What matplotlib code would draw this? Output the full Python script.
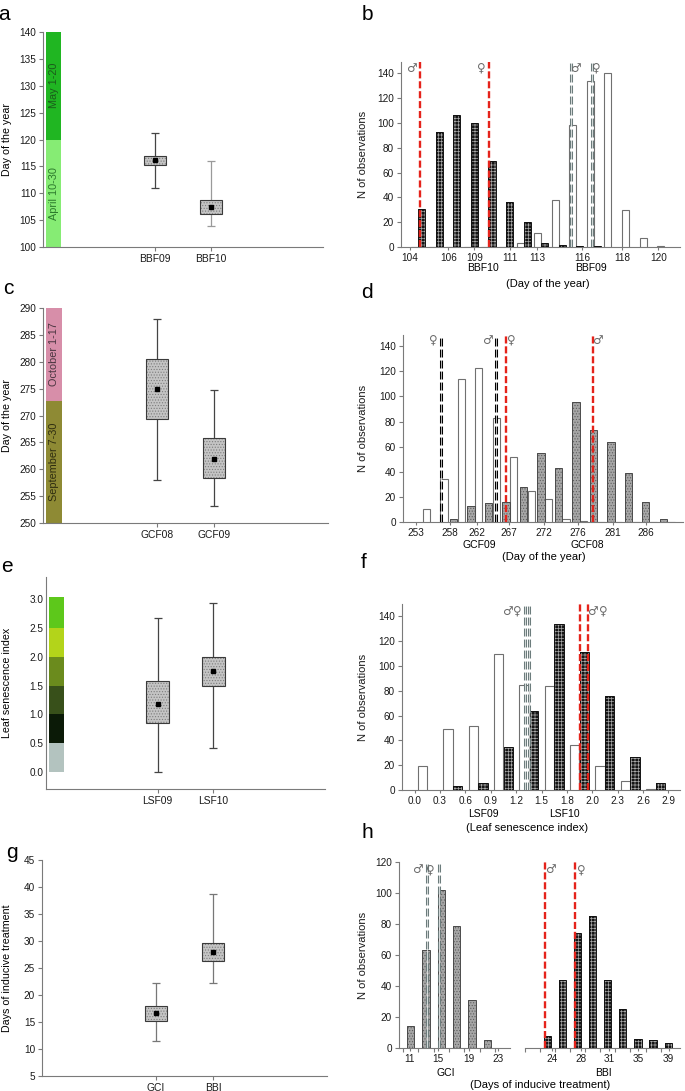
import matplotlib.pyplot as plt
import numpy as np

plt.rcParams['font.family'] = ['Liberation Sans', 'DejaVu Sans']
plt.rcParams['hatch.linewidth'] = 0.5

# a: bud burst (day of year)
bbf_names = ["BBF09", "BBF10"]
bbf_mean = [116.2, 107.5]
bbf_q1 = [115.3, 106.2]
bbf_q3 = [117.0, 108.8]
bbf_low = [111.0, 104.0]
bbf_high = [121.2, 116.0]
bbf_bands = [100, 120, 140]
bbf_band_names = ["April 10-30", "May 1-20"]

# c: growth cessation (day of year)
gcf_names = ["GCF08", "GCF09"]
gcf_mean = [275.0, 262.0]
gcf_q1 = [269.4, 258.3]
gcf_q3 = [280.5, 265.8]
gcf_low = [258.0, 253.2]
gcf_high = [288.0, 274.7]
gcf_bands = [250, 272.7, 290]
gcf_band_names = ["September 7-30", "October 1-17"]

# e: leaf senescence index
lsf_names = ["LSF09", "LSF10"]
lsf_mean = [1.19, 1.75]
lsf_q1 = [0.85, 1.50]
lsf_q3 = [1.58, 2.00]
lsf_low = [0.0, 0.42]
lsf_high = [2.67, 2.93]
lsf_bands = [0.0, 0.5, 1.0, 1.5, 2.0, 2.5, 3.0]

# g: days of inducive treatment
ind_names = ["GCI", "BBI"]
ind_mean = [16.6, 28.0]
ind_q1 = [15.1, 26.3]
ind_q3 = [18.0, 29.7]
ind_low = [11.5, 22.3]
ind_high = [22.3, 38.7]

# b: histogram bins (day of year)
b_ticklabels = ["104", "106", "109", "111", "113", "116", "118", "120"]
b_bbf09 = [0, 0, 0, 0, 0, 0, 3, 11, 38, 98, 134, 140, 30, 7, 1]
b_bbf10 = [31, 93, 106, 100, 69, 36, 20, 3, 2, 1, 1, 0, 0, 0, 0]
b_bbf10_sex = [0.1, 4.03]     # male, female means (bin units)
b_bbf09_sex = [8.7, 9.88]

# d
d_ticklabels = ["253", "258", "262", "267", "272", "276", "281", "286"]
d_gcf08 = [0, 0, 2, 13, 15, 16, 28, 55, 43, 96, 73, 64, 39, 16, 2]
d_gcf09 = [10, 34, 114, 123, 83, 52, 25, 18, 2, 1, 0, 0, 0, 0, 0]
d_gcf09_sex = [4.19, 1.04]    # male, female
d_gcf08_sex = [9.76, 4.76]

# f
f_ticklabels = ["0.0", "0.3", "0.6", "0.9", "1.2", "1.5", "1.8", "2.0", "2.3", "2.6", "2.9"]
f_lsf09 = [19, 49, 52, 110, 85, 84, 36, 19, 7, 1]
f_lsf10 = [0, 3, 6, 35, 64, 134, 111, 76, 27, 6]
f_lsf09_sex = [3.83, 3.99]
f_lsf10_sex = [6.02, 6.33]

# h
h_gci_labels = ["11", "15", "19", "23"]
h_bbi_labels = ["24", "28", "31", "35", "39"]
h_gci = [14, 63, 102, 79, 31, 5]
h_bbi = [8, 44, 74, 85, 44, 25, 6, 5, 3]
h_gci_sex = [1.09, 1.83]
h_bbi_sex = [-0.15, 1.85]

W, H = 685, 1091
fig = plt.figure(figsize=(W / 100, H / 100), dpi=100)

AX_COL = '#7a7a7a'
RED = '#e5231b'
GREY = '#6c7c7c'
MALE, FEMALE = '\u2642', '\u2640'


def add_ax(x0, x1, y0, y1):
    return fig.add_axes([x0 / W, 1 - y1 / H, (x1 - x0) / W, (y1 - y0) / H])


def ptext(x, y, s, **kw):
    fig.text(x / W, 1 - y / H, s, **kw)


def style(ax):
    for s in ['top', 'right']:
        ax.spines[s].set_visible(False)
    for s in ['left', 'bottom']:
        ax.spines[s].set_color(AX_COL)
        ax.spines[s].set_linewidth(0.8)
    ax.tick_params(colors=AX_COL, labelcolor='#1a1a1a', labelsize=7.2,
                   length=3, width=0.8, pad=2)


def box_panel(ax, names, mean, q1, q3, low, high, ylim, wcol):
    style(ax)
    pos = np.array([2, 3])
    for p, lo, hi, c in zip(pos, low, high, wcol):
        ax.vlines(p, lo, hi, color=c, lw=0.9, zorder=2)
        ax.hlines([lo, hi], p - 0.07, p + 0.07, color=c, lw=0.9, zorder=2)
    h = np.subtract(q3, q1)
    ax.bar(pos, h, bottom=q1, width=0.4, color='#c4c4c4', edgecolor='#7d7d7d',
           hatch='......', lw=0, zorder=3)
    ax.bar(pos, h, bottom=q1, width=0.4, fill=False, edgecolor='#3a3a3a',
           lw=0.8, zorder=4)
    ax.plot(pos, mean, 's', color='black', ms=2.6, zorder=5)
    ax.set_xlim(0, 5)
    ax.set_ylim(*ylim)
    ax.set_xticks(pos, names, fontsize=7.4)


def bands(ax, edges, colors, names=None, tcols=None):
    for i, c in enumerate(colors):
        ax.bar(0.19, edges[i + 1] - edges[i], bottom=edges[i], width=0.27,
               color=c, lw=0, zorder=1)
        if names:
            ax.text(0.19, (edges[i] + edges[i + 1]) / 2, names[i], rotation=90,
                    ha='center', va='center', fontsize=7.8, color=tcols[i])


def bars(ax, x, vals, kind, width):
    if kind == 'white':
        ax.bar(x, vals, width, color='white', edgecolor='#707070', lw=0.8, zorder=3)
        return
    if kind == 'dark':
        face, hc, ec = '#141414', '#a8a8a8', '#111111'
        hatch = '+++++'
    else:
        face, hc, ec = '#a6a6a6', '#5e5e5e', '#4a4a4a'
        hatch = '......'
    ax.bar(x, vals, width, color=face, edgecolor=hc, hatch=hatch, lw=0, zorder=3)
    ax.bar(x, vals, width, fill=False, edgecolor=ec, lw=0.7, zorder=4)


def mean_line(ax, x, kind):
    if kind == 'red':
        ax.axvline(x, color=RED, lw=1.7, ls=(0, (3, 1.2)), zorder=6)
    else:
        col = GREY if kind == 'grey' else 'black'
        ax.axvline(x, color=col, lw=2.2, ls=(0, (2.6, 1.0)), zorder=6)
        ax.axvline(x, color='white', lw=0.5, zorder=7)


def sex_text(ax, x, y, s):
    ax.text(x, y, s, ha='center', va='center', fontsize=8.5, color='#6a6a6a',
            family=['DejaVu Sans'], zorder=8)


def hist_style(ax, xlim, ticks, labels, ylim=(0, 149), yticks=range(0, 141, 20)):
    style(ax)
    ax.set_xlim(*xlim)
    ax.set_ylim(*ylim)
    ax.set_yticks(list(yticks))
    ax.set_xticks(ticks, labels)
    ax.tick_params(axis='x', length=2)
    ax.set_ylabel("N of observations", fontsize=8, color='#1a1a1a')


# ---------------- a ----------------
ax = add_ax(43, 323, 32, 247)
box_panel(ax, bbf_names, bbf_mean, bbf_q1, bbf_q3, bbf_low, bbf_high,
          (100, 140), ['#444444', '#9a9a9a'])
bands(ax, bbf_bands, ['#86ec74', '#20b622'], bbf_band_names, ['#2c7a2c', '#1b5a1b'])
ax.set_yticks(range(100, 141, 5))
ax.set_ylabel("Day of the year", fontsize=7.7)
ax.yaxis.set_label_coords(-0.111, 0.5)
ptext(4, 14, "a", fontsize=15, ha='center', va='center')

# ---------------- c ----------------
ax = add_ax(43, 328, 308, 523)
box_panel(ax, gcf_names, gcf_mean, gcf_q1, gcf_q3, gcf_low, gcf_high,
          (250, 290), ['#444444', '#444444'])
bands(ax, gcf_bands, ['#8e8a34', '#d78ea9'], gcf_band_names, ['#2e2d10', '#4a3540'])
ax.set_yticks(range(250, 291, 5))
ax.set_ylabel("Day of the year", fontsize=7.7)
ax.yaxis.set_label_coords(-0.109, 0.5)
ptext(8, 289, "c", fontsize=15, ha='center', va='center')

# ---------------- e ----------------
ax = add_ax(46, 325, 577, 789)
box_panel(ax, lsf_names, lsf_mean, lsf_q1, lsf_q3, lsf_low, lsf_high,
          (-0.29, 3.38), ['#444444', '#444444'])
bands(ax, [e + 0.0 for e in lsf_bands[:-1]] + [3.03],
      ['#b3c3bf', '#0b1a07', '#38501a', '#6b8b1d', '#b3d41a', '#5dc81b'])
ax.set_yticks(lsf_bands, [f"{v:.1f}" for v in lsf_bands])
ax.tick_params(axis='y', length=0)
ax.set_ylabel("Leaf senescence index", fontsize=7.7)
ax.yaxis.set_label_coords(-0.122, 0.5)
ptext(7, 566, "e", fontsize=15, ha='center', va='center')

# ---------------- g ----------------
ax = add_ax(42, 327, 860, 1076)
box_panel(ax, ind_names, ind_mean, ind_q1, ind_q3, ind_low, ind_high,
          (5, 45), ['#777777', '#777777'])
ax.set_yticks(range(5, 46, 5))
ax.set_ylabel("Days of inducive treatment", fontsize=7.7)
ax.yaxis.set_label_coords(-0.105, 0.5)
ptext(12, 853, "g", fontsize=15, ha='center', va='center')

# ---------------- b ----------------
ax = add_ax(401, 680, 62, 247)
k = np.arange(len(b_bbf09))
bars(ax, k - 0.2, b_bbf09, 'white', 0.4)
bars(ax, k + 0.2, b_bbf10, 'dark', 0.4)
hist_style(ax, (-0.98, 14.9), [-0.46, 1.72, 3.2, 5.23, 6.78, 9.35, 11.62, 13.67],
           b_ticklabels)
ax.yaxis.set_label_coords(-0.118, 0.5)
for x in b_bbf10_sex:
    mean_line(ax, x, 'red')
for x in b_bbf09_sex:
    mean_line(ax, x, 'grey')
sex_text(ax, -0.41, 144, MALE)
sex_text(ax, 3.61, 144, FEMALE)
sex_text(ax, 8.95, 144, MALE)
sex_text(ax, 10.16, 144, FEMALE)
ptext(483, 268, "BBF10", fontsize=7.5, ha='center', va='center')
ptext(591, 268, "BBF09", fontsize=7.5, ha='center', va='center')
ptext(548, 284, "(Day of the year)", fontsize=8, ha='center', va='center')
ptext(367, 14, "b", fontsize=15, ha='center', va='center')

# ---------------- d ----------------
ax = add_ax(403, 683, 335, 522)
j = np.arange(len(d_gcf08))
bars(ax, j - 0.22, d_gcf08, 'grey', 0.42)
bars(ax, j + 0.22, d_gcf09, 'white', 0.42)
hist_style(ax, (-1.12, 14.91), [-0.39, 1.56, 3.12, 4.95, 6.94, 8.9, 10.9, 12.78],
           d_ticklabels)
ax.yaxis.set_label_coords(-0.125, 0.5)
for x in d_gcf09_sex:
    mean_line(ax, x, 'black')
for x in d_gcf08_sex:
    mean_line(ax, x, 'red')
sex_text(ax, 0.6, 145, FEMALE)
sex_text(ax, 3.69, 145, MALE)
sex_text(ax, 5.08, 145, FEMALE)
sex_text(ax, 9.99, 145, MALE)
ptext(479, 545, "GCF09", fontsize=7.5, ha='center', va='center')
ptext(587, 545, "GCF08", fontsize=7.5, ha='center', va='center')
ptext(544, 557, "(Day of the year)", fontsize=8, ha='center', va='center')
ptext(367, 293, "d", fontsize=15, ha='center', va='center')

# ---------------- f ----------------
ax = add_ax(402, 680, 604, 790)
m = np.arange(len(f_lsf09))
bars(ax, m - 0.19, f_lsf09, 'white', 0.37)
bars(ax, m + 0.19, f_lsf10, 'dark', 0.37)
hist_style(ax, (-1.0, 9.96), np.arange(len(f_ticklabels)) - 0.5, f_ticklabels,
           ylim=(0, 150))
ax.yaxis.set_label_coords(-0.122, 0.5)
for x in f_lsf09_sex:
    mean_line(ax, x, 'grey')
for x in f_lsf10_sex:
    mean_line(ax, x, 'red')
sex_text(ax, 3.14, 144, MALE)
sex_text(ax, 3.56, 144, FEMALE)
sex_text(ax, 6.51, 144, MALE)
sex_text(ax, 6.94, 144, FEMALE)
ptext(483, 814, "LSF09", fontsize=7.5, ha='center', va='center')
ptext(564, 814, "LSF10", fontsize=7.5, ha='center', va='center')
ptext(527, 828, "(Leaf senescence index)", fontsize=8, ha='center', va='center')
ptext(364, 563, "f", fontsize=15, ha='center', va='center')

# ---------------- h ----------------
axl = add_ax(399, 510, 862, 1048)
i = np.arange(len(h_gci))
bars(axl, i, h_gci, 'grey', 0.48)
hist_style(axl, (-0.76, 6.46), [-0.07, 1.78, 3.78, 5.7], h_gci_labels,
           ylim=(0, 120), yticks=range(0, 121, 20))
axl.yaxis.set_label_coords(-0.28, 0.5)
axl.set_xticks(np.arange(-0.5, 6.5, 1), minor=True)
axl.tick_params(axis='x', which='minor', length=3, color=AX_COL, width=0.8)
for x in h_gci_sex:
    mean_line(axl, x, 'grey')
sex_text(axl, 0.41, 115, MALE)
sex_text(axl, 1.3, 115, FEMALE)

axr = add_ax(525, 680, 862, 1048)
i = np.arange(len(h_bbi))
bars(axr, i, h_bbi, 'dark', 0.47)
style(axr)
axr.spines['left'].set_visible(False)
axr.set_xlim(-1.1, 8.79)
axr.set_ylim(0, 120)
axr.set_yticks([])
axr.set_xticks([0.32, 2.23, 4.1, 6.02, 8.04], h_bbi_labels)
axr.tick_params(axis='x', length=2)
axr.set_xticks(np.arange(-1.0, 9, 1) - 0.5, minor=True)
axr.tick_params(axis='x', which='minor', length=3, color=AX_COL, width=0.8)
for x in h_bbi_sex:
    mean_line(axr, x, 'red')
sex_text(axr, 0.17, 115, MALE)
sex_text(axr, 2.23, 115, FEMALE)
ptext(446, 1073, "GCI", fontsize=7.5, ha='center', va='center')
ptext(603, 1073, "BBI", fontsize=7.5, ha='center', va='center')
ptext(540, 1085, "(Days of inducive treatment)", fontsize=8, ha='center', va='center')
ptext(367, 833, "h", fontsize=15, ha='center', va='center')

fig.savefig("out.png", dpi=100)
